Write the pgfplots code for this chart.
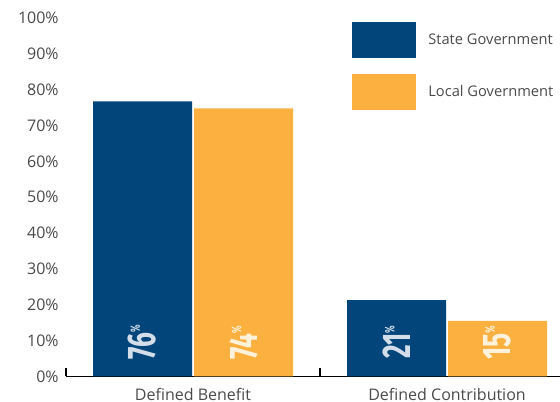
\documentclass[border=0pt]{standalone}
\usepackage{pgfplots}
\pgfplotsset{compat=1.18}
\usepackage{graphicx}
\usepackage{fontspec}
\setmainfont{Open Sans}
\newfontfamily\numfont{Fira Sans}
\definecolor{stateblue}{HTML}{02457A}
\definecolor{localorange}{HTML}{FBB040}
\definecolor{labelgray}{HTML}{4A4A4A}
\definecolor{bluetext}{HTML}{D3DEEA}
\definecolor{orangetext}{HTML}{FFF2DC}

\newcommand{\pct}[1]{\scalebox{0.66}[1]{\fontsize{30pt}{30pt}\numfont\bfseries #1\raisebox{12pt}{\fontsize{10pt}{10pt}\selectfont\%}}}

\begin{document}
\begin{tikzpicture}
\useasboundingbox (-49.5pt,-19.125pt) rectangle (370.5pt,282.375pt);
\begin{axis}[
  at={(0pt,0pt)}, anchor=south west,
  scale only axis, width=371.5pt, height=268.9pt,
  xmin=-0.5, xmax=1.45, ymin=0, ymax=100,
  ybar=1.5pt, bar width=74.25pt,
  axis x line=bottom, axis y line=left,
  x axis line style={-, line width=1.1pt, black},
  y axis line style={draw=none},
  xtick={0,1}, xticklabels={Defined Benefit, Defined Contribution},
  minor xtick={-0.5,0.5,1.5},
  major tick length=0pt, minor tick length=6pt,
  tick align=inside,
  minor x tick style={line width=1.1pt, black},
  ytick={0,10,...,100},
  ytick style={draw=none},
  yticklabel={\pgfmathprintnumber{\tick}\%},
  /pgf/number format/assume math mode=true,
  tick label style={font=\fontsize{12pt}{14pt}\selectfont, text=labelgray},
  yticklabel style={xshift=-2pt},
  xticklabel style={yshift=-5pt},
  legend style={at={(0.5775,0.989)}, anchor=north west, draw=none, fill=none,
    inner sep=0pt, row sep=12pt, column sep=7pt,
    font=\fontsize{11pt}{13pt}\selectfont, text=labelgray},
  legend cell align=left,
  legend image code/.code={\fill[#1] (0pt,-13.5pt) rectangle (48pt,13.5pt);},
]
\addplot[fill=stateblue, draw=none] coordinates {(0,76.7) (1,21.3)};
\addlegendentry{State Government}
\addplot[fill=localorange, draw=none] coordinates {(0,74.8) (1,15.5)};
\addlegendentry{Local Government}

\node[rotate=90, text=bluetext] at ([xshift=-37.9pt]axis cs:0,9.5) {\pct{76}};
\node[rotate=90, text=orangetext] at ([xshift=37.9pt]axis cs:0,9.5) {\pct{74}};
\node[rotate=90, text=bluetext] at ([xshift=-37.9pt]axis cs:1,9.5) {\pct{21}};
\node[rotate=90, text=orangetext] at ([xshift=37.9pt]axis cs:1,9.5) {\pct{15}};
\end{axis}
\end{tikzpicture}
\end{document}
